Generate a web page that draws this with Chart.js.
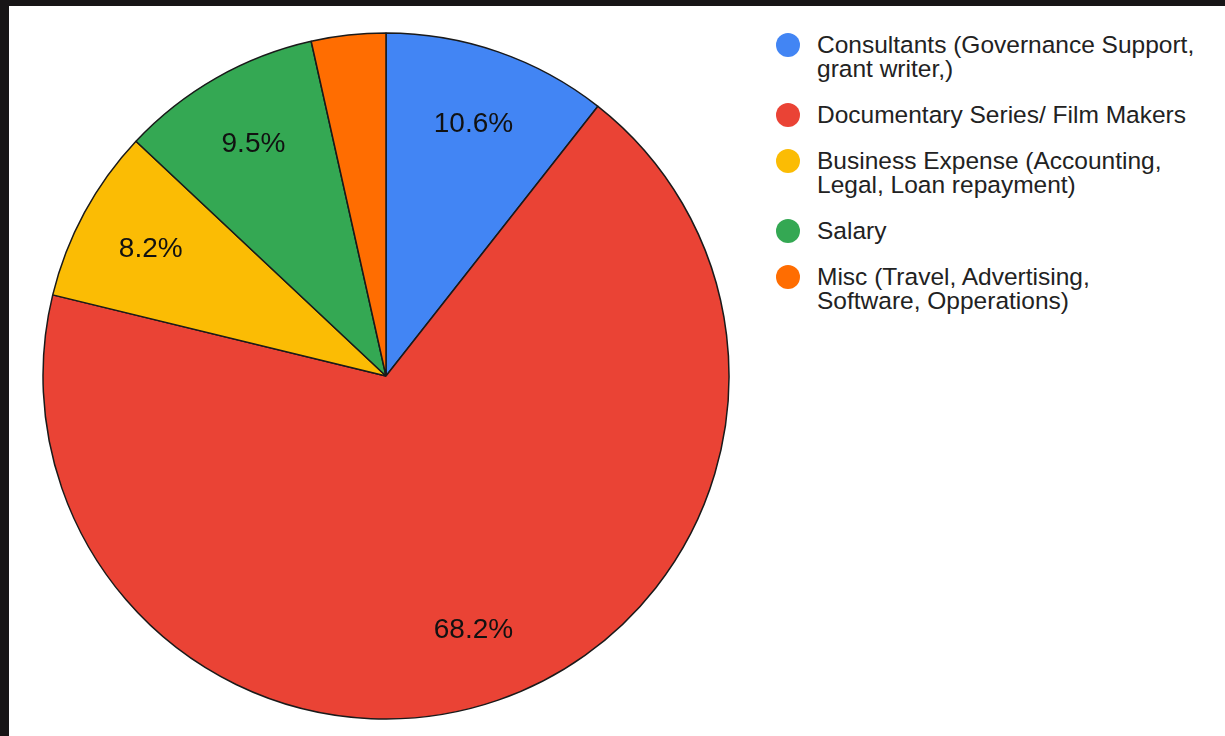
<!DOCTYPE html>
<html>
<head>
<meta charset="utf-8">
<script src="https://cdn.jsdelivr.net/npm/chart.js"></script>
<style>
  html, body {
    margin: 0;
    padding: 0;
    background: #171516;
    width: 1225px;
    height: 736px;
    overflow: hidden;
  }
  .panel {
    position: absolute;
    left: 9px;
    top: 6px;
    right: 0;
    bottom: 0;
    background: #fff;
  }
  .pie-box {
    position: absolute;
    left: 41px;
    top: 31px;
    width: 690px;
    height: 690px;
  }
  .legend {
    position: absolute;
    left: 776px;
    top: 33px;
    font-family: "Liberation Sans", Arial, sans-serif;
    font-size: 24.5px;
    line-height: 24px;
    color: #222;
  }
  .legend .item {
    position: relative;
    padding-left: 41px;
    margin-bottom: 22px;
  }
  .legend .dot {
    position: absolute;
    left: 0;
    top: 0;
    width: 24px;
    height: 24px;
    border-radius: 50%;
  }
</style>
</head>
<body>
<div class="panel"></div>
<div class="pie-box"><canvas id="pie"></canvas></div>
<div class="legend" id="legend"></div>

<script>
// data
const categories = [
  ["Consultants (Governance Support,", "grant writer,)"],
  ["Documentary Series/ Film Makers"],
  ["Business Expense (Accounting,", "Legal, Loan repayment)"],
  ["Salary"],
  ["Misc (Travel, Advertising,", "Software, Opperations)"]
];
const shares = [10.6, 68.2, 8.2, 9.5, 3.5];
const colors = ["#4285f4", "#ea4335", "#fbbc04", "#34a853", "#ff6d01"];

// legend on the right
const legend = document.getElementById("legend");
categories.forEach(function (lines, i) {
  const item = document.createElement("div");
  item.className = "item";
  item.innerHTML = '<span class="dot" style="background:' + colors[i] + '"></span>' + lines.join("<br>");
  legend.appendChild(item);
});

// percentage labels inside the slices
const sliceLabels = {
  id: "sliceLabels",
  afterDatasetsDraw(chart) {
    const ctx = chart.ctx;
    const meta = chart.getDatasetMeta(0);
    const data = chart.data.datasets[0].data;
    const total = data.reduce((a, b) => a + b, 0);
    ctx.save();
    ctx.font = '28px "Liberation Sans", Arial, sans-serif';
    ctx.fillStyle = "#111";
    ctx.textAlign = "center";
    ctx.textBaseline = "middle";
    meta.data.forEach(function (arc, i) {
      const pct = data[i] / total * 100;
      if (pct < 5) return;
      const p = arc.getProps(["x", "y", "startAngle", "endAngle", "outerRadius"], true);
      const mid = (p.startAngle + p.endAngle) / 2;
      const r = p.outerRadius * 0.78;
      ctx.fillText(pct.toFixed(1) + "%", p.x + Math.cos(mid) * r, p.y + Math.sin(mid) * r + 1);
    });
    ctx.restore();
  }
};

new Chart(document.getElementById("pie"), {
  type: "pie",
  data: {
    labels: categories.map(l => l.join(" ")),
    datasets: [{
      data: shares,
      backgroundColor: colors,
      borderColor: "#1a1a1a",
      borderWidth: 1.5,
      radius: 343
    }]
  },
  options: {
    responsive: true,
    maintainAspectRatio: false,
    animation: false,
    layout: { padding: 0 },
    plugins: {
      legend: { display: false },
      tooltip: { enabled: false }
    }
  },
  plugins: [sliceLabels]
});
</script>
</body>
</html>
